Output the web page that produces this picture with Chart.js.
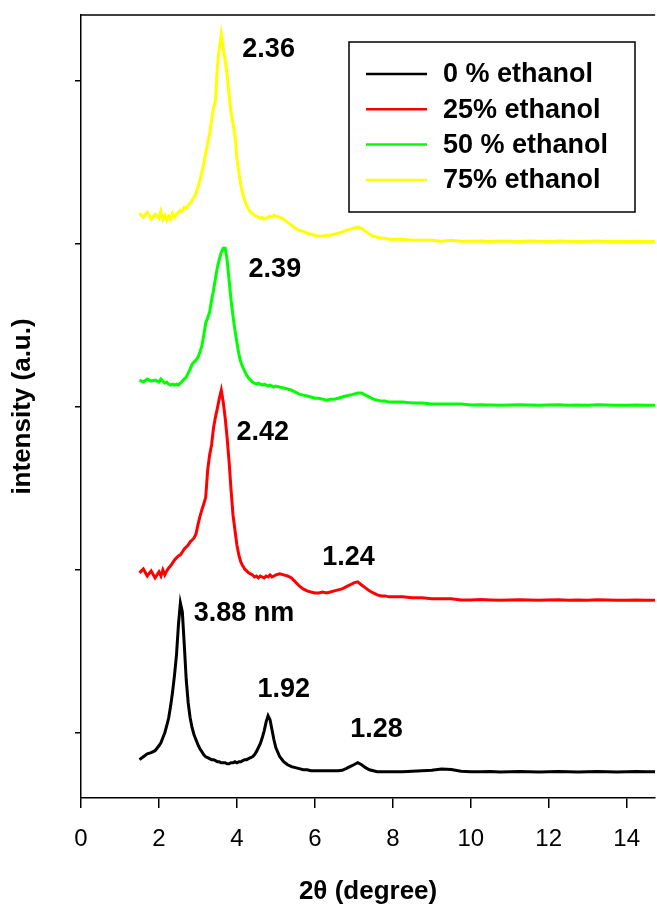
<!DOCTYPE html>
<html lang="en">
<head>
  <meta charset="UTF-8">
  <title>XRD - ethanol series</title>
  <script src="https://cdn.jsdelivr.net/npm/chart.js"></script>
  <style>
    html, body { margin: 0; padding: 0; background: #fff; }
    canvas { display: block; }
  </style>
</head>
<body>

  <canvas id="xrdChart" width="657" height="907"></canvas>

  <script>
    // 2theta grid (degree)
    const twoTheta = [
      1.5,1.6,1.7,1.8,1.9,2.0,
      2.05,2.1,2.15,2.2,2.25,2.3,2.35,2.4,2.45,2.5,2.55,2.6,2.65,2.7,2.75,2.8,2.85,2.9,2.95,3.0,
      3.05,3.1,3.15,3.2,3.25,3.3,3.35,3.4,3.45,3.5,3.55,3.6,3.65,3.7,3.75,3.8,3.85,3.9,3.95,4.0,
      4.05,4.1,4.15,4.2,4.25,4.3,4.35,4.4,4.45,4.5,4.55,4.6,4.65,4.7,4.75,4.8,4.85,4.9,4.95,5.0,
      5.1,5.2,5.3,5.4,5.5,5.6,5.7,5.8,5.9,6.0,6.1,6.2,6.3,6.4,6.5,6.6,6.7,6.8,6.9,7.0,
      7.1,7.2,7.3,7.4,7.5,7.6,7.7,7.8,7.9,8.0,
      8.25,8.5,8.75,9.0,9.25,9.5,9.75,10.0,10.25,10.5,10.75,11.0,11.25,11.5,11.75,12.0,
      12.25,12.5,12.75,13.0,13.25,13.5,13.75,14.0,14.25,14.5,14.75
    ];

    // intensity (a.u., stacked)
    const ethanol0 = [
      .835,.853,.871,.878,.890,.920,
      .939,.969,1.0,1.043,1.092,1.165,1.251,1.355,1.478,1.661,1.796,1.741,1.539,1.325,1.184,1.092,1.031,.988,.957,.927,
      .902,.884,.865,.853,.847,.841,.835,.835,.829,.822,.822,.816,.816,.816,.810,.810,.816,.816,.822,.816,
      .822,.822,.829,.835,.835,.841,.847,.853,.865,.884,.908,.933,.969,1.012,1.067,1.104,1.080,1.018,.957,.908,
      .853,.822,.804,.792,.786,.780,.773,.773,.767,.767,.767,.767,.767,.767,.767,.767,.770,.780,.792,.804,
      .816,.804,.786,.773,.767,.761,.761,.761,.761,.761,
      .761,.764,.767,.770,.778,.775,.764,.761,.761,.762,.760,.761,.762,.761,.760,.761,
      .762,.761,.760,.761,.762,.761,.760,.761,.762,.761,.761
    ];
    const ethanol25 = [
      1.980,2.004,1.961,1.992,1.949,1.986,
      1.961,1.998,1.968,1.992,2.010,2.023,2.041,2.059,2.072,2.084,2.090,2.108,2.127,2.139,2.151,2.170,2.182,2.194,2.219,2.274,
      2.323,2.366,2.402,2.445,2.610,2.702,2.764,2.868,2.935,2.990,3.051,3.100,3.027,2.929,2.806,2.660,2.488,2.335,2.243,2.151,
      2.090,2.047,2.023,2.004,1.992,1.980,1.974,1.968,1.955,1.961,1.949,1.961,1.955,1.949,1.961,1.955,1.968,1.955,1.961,1.968,
      1.974,1.968,1.961,1.949,1.925,1.900,1.882,1.870,1.863,1.857,1.857,1.863,1.857,1.863,1.870,1.876,1.882,1.894,1.906,1.919,
      1.925,1.906,1.888,1.870,1.857,1.845,1.839,1.839,1.833,1.833,
      1.833,1.827,1.827,1.821,1.821,1.821,1.814,1.814,1.817,1.814,1.812,1.814,1.816,1.814,1.812,1.814,
      1.815,1.813,1.814,1.812,1.816,1.814,1.813,1.812,1.814,1.812,1.812
    ];
    const ethanol50 = [
      3.162,3.150,3.168,3.156,3.162,3.150,
      3.168,3.156,3.143,3.150,3.137,3.131,3.137,3.131,3.137,3.131,3.143,3.156,3.168,3.180,3.205,3.229,3.260,3.272,3.284,3.302,
      3.333,3.370,3.437,3.512,3.542,3.579,3.652,3.713,3.786,3.854,3.903,3.946,3.970,3.970,3.896,3.774,3.652,3.554,3.468,3.394,
      3.321,3.272,3.241,3.217,3.192,3.174,3.162,3.150,3.143,3.137,3.143,3.137,3.131,3.137,3.131,3.125,3.131,3.125,3.119,3.125,
      3.119,3.113,3.107,3.100,3.088,3.076,3.070,3.064,3.058,3.051,3.051,3.045,3.039,3.045,3.045,3.051,3.058,3.064,3.070,3.076,
      3.082,3.082,3.070,3.058,3.045,3.039,3.033,3.033,3.027,3.027,
      3.027,3.021,3.021,3.015,3.015,3.015,3.015,3.009,3.011,3.009,3.007,3.009,3.011,3.009,3.007,3.009,
      3.010,3.008,3.009,3.007,3.011,3.009,3.008,3.007,3.009,3.008,3.008
    ];
    const ethanol75 = [
      4.184,4.160,4.190,4.148,4.178,4.154,
      4.197,4.148,4.172,4.142,4.166,4.148,4.184,4.160,4.178,4.190,4.203,4.197,4.221,4.215,4.233,4.246,4.264,4.282,4.307,4.343,
      4.386,4.435,4.490,4.552,4.613,4.674,4.754,4.828,4.876,5.091,5.195,5.281,5.195,5.121,5.029,4.907,4.802,4.735,4.662,4.521,
      4.435,4.356,4.301,4.264,4.233,4.209,4.190,4.184,4.172,4.166,4.160,4.154,4.160,4.148,4.154,4.160,4.166,4.160,4.172,4.166,
      4.160,4.148,4.129,4.111,4.093,4.080,4.074,4.062,4.056,4.050,4.044,4.044,4.050,4.050,4.056,4.062,4.068,4.080,4.086,4.093,
      4.099,4.093,4.074,4.056,4.044,4.038,4.031,4.031,4.025,4.025,
      4.025,4.019,4.019,4.019,4.013,4.019,4.013,4.013,4.015,4.012,4.014,4.013,4.011,4.014,4.013,4.012,
      4.014,4.013,4.011,4.013,4.014,4.012,4.013,4.011,4.013,4.012,4.012
    ];

    const seriesLabels = ['0 % ethanol', '25% ethanol', '50 % ethanol', '75% ethanol'];
    const seriesColors = ['#000000', '#ff0000', '#00ff00', '#ffff00'];
    const seriesValues = [ethanol0, ethanol25, ethanol50, ethanol75];

    const xTicks = [0, 2, 4, 6, 8, 10, 12, 14];
    const yTicks = [1, 2, 3, 4, 5];

    // d-spacing labels next to the peaks
    const peakLabels = ['2.36', '2.39', '2.42', '1.24', '3.88 nm', '1.92', '1.28'];
    const peakX = [4.14, 4.30, 3.99, 6.19, 2.89, 4.53, 6.91];
    const peakY = [5.140, 3.792, 2.794, 2.029, 1.686, 1.220, 0.976];

    const FONT = '"Liberation Sans", Arial, sans-serif';

    const overlay = {
      id: 'overlay',
      afterDatasetsDraw(chart) {
        const { ctx, chartArea: a, scales: { x, y } } = chart;
        ctx.save();
        // top frame line
        ctx.strokeStyle = '#000';
        ctx.lineWidth = 1.5;
        ctx.beginPath();
        ctx.moveTo(a.left, a.top);
        ctx.lineTo(a.right, a.top);
        ctx.stroke();

        // peak labels
        ctx.fillStyle = '#000';
        ctx.font = 'bold 27px ' + FONT;
        ctx.textAlign = 'left';
        ctx.textBaseline = 'alphabetic';
        peakLabels.forEach((t, i) => {
          ctx.fillText(t, x.getPixelForValue(peakX[i]), y.getPixelForValue(peakY[i]));
        });

        // legend box
        ctx.lineWidth = 1.5;
        ctx.strokeStyle = '#000';
        ctx.strokeRect(349, 42, 286, 170);
        ctx.textBaseline = 'middle';
        seriesLabels.forEach((t, i) => {
          const ly = 74 + i * 35.3;
          ctx.strokeStyle = seriesColors[i];
          ctx.lineWidth = 2.5;
          ctx.beginPath();
          ctx.moveTo(366, ly);
          ctx.lineTo(427, ly);
          ctx.stroke();
          ctx.fillStyle = '#000';
          ctx.fillText(t, 443, ly + 1);
        });
        ctx.restore();
      }
    };

    const ctx = document.getElementById('xrdChart').getContext('2d');
    new Chart(ctx, {
      type: 'line',
      data: {
        datasets: seriesValues.map((vals, i) => ({
          label: seriesLabels[i],
          data: twoTheta.map((t, j) => ({ x: t, y: vals[j] })),
          borderColor: seriesColors[i],
          borderWidth: 3,
          pointRadius: 0,
          tension: 0,
          fill: false
        }))
      },
      options: {
        responsive: false,
        devicePixelRatio: 1,
        animation: false,
        layout: { padding: { top: 15, left: 0, right: 0, bottom: 0 } },
        plugins: {
          legend: { display: false },
          tooltip: { enabled: false }
        },
        scales: {
          x: {
            type: 'linear',
            min: 0,
            max: 14.73,
            afterBuildTicks: s => { s.ticks = xTicks.map(v => ({ value: v })); },
            afterFit: s => { s.height = 109; },
            ticks: {
              color: '#000',
              padding: 17,
              maxRotation: 0,
              font: { family: FONT, size: 24 }
            },
            grid: {
              drawOnChartArea: false,
              tickLength: 10,
              color: '#000',
              lineWidth: 1.5
            },
            border: { color: '#000', width: 1.5 },
            title: {
              display: true,
              text: '2θ (degree)',
              color: '#000',
              font: { family: FONT, size: 26, weight: 'bold' },
              padding: { top: 0, bottom: 0 }
            }
          },
          y: {
            min: 0.6,
            max: 5.4,
            afterBuildTicks: s => { s.ticks = yTicks.map(v => ({ value: v })); },
            afterFit: s => { s.width = 81; },
            ticks: { display: false },
            grid: {
              drawOnChartArea: false,
              tickLength: 6,
              color: '#000',
              lineWidth: 1.5
            },
            border: { color: '#000', width: 1.5 },
            title: {
              display: true,
              text: 'intensity (a.u.)',
              color: '#000',
              font: { family: FONT, size: 26, weight: 'bold' },
              padding: { top: 7, bottom: 0 }
            }
          }
        }
      },
      plugins: [overlay]
    });
  </script>

</body>
</html>
